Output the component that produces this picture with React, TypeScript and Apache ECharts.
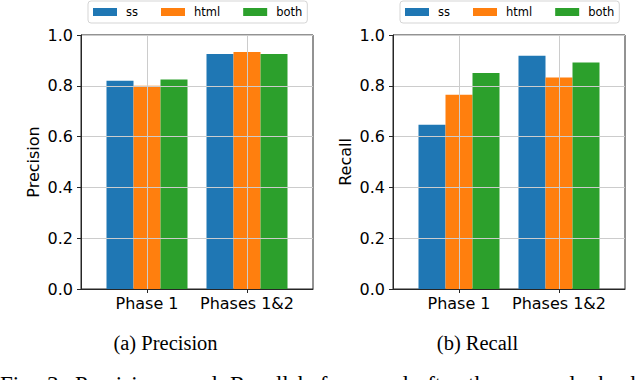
import React, { useEffect, useRef } from "react";
import * as echarts from "echarts";

const categories = ["Phase 1", "Phases 1&2"];
const seriesNames = ["ss", "html", "both"];
const precisionSS = [0.82, 0.925];
const precisionHTML = [0.8, 0.933];
const precisionBoth = [0.825, 0.925];
const recallSS = [0.647, 0.918];
const recallHTML = [0.765, 0.833];
const recallBoth = [0.85, 0.892];
const colors = ["#1f77b4", "#ff7f0e", "#2ca02c"];
const yLabels = ["Precision", "Recall"];
const captions = ["(a) Precision", "(b) Recall"];
const figCaptionWords = ["Fig.", "3:", "Precision", "and", "Recall", "before", "and", "after", "the", "manual", "check"];

// layout only (x position of each caption word, justified line)
const figCaptionX = [0, 47, 75, 184, 230, 298, 375, 417, 468, 508, 588];

const FONT = "'DejaVu Sans', sans-serif";
const SERIF = "'Liberation Serif', 'Times New Roman', serif";

export default function App() {
  const ref = useRef<HTMLDivElement>(null);
  useEffect(() => {
    if (!ref.current) return;
    const chart = echarts.init(ref.current, null, { renderer: "svg" });
    const panels = [
      { left: 81, right: 640 - 313, data: [precisionSS, precisionHTML, precisionBoth] },
      { left: 393, right: 640 - 625, data: [recallSS, recallHTML, recallBoth] },
    ];
    const grid = panels.map((p) => ({
      left: p.left,
      right: p.right,
      top: 35,
      bottom: 380 - 289,
      show: true,
      borderColor: "#262626",
      borderWidth: 1,
      backgroundColor: "transparent",
    }));
    const xAxis = panels.map((_, i) => ({
      type: "value",
      gridIndex: i,
      min: -0.66,
      max: 1.66,
      z: 3,
      axisLine: { show: true, onZero: false, lineStyle: { color: "#262626", width: 1 } },
      axisTick: { show: true, length: 4, customValues: [0, 1], lineStyle: { color: "#262626" } },
      axisLabel: {
        customValues: [0, 1],
        formatter: (v: number) => categories[Math.round(v)],
        fontFamily: FONT,
        fontSize: 16,
        color: "#000",
        margin: 6,
      },
      splitLine: { show: true, lineStyle: { color: "#cccccc", width: 1 } },
    }));
    const yAxis = panels.map((_, i) => ({
      type: "value",
      gridIndex: i,
      min: 0,
      max: 1,
      interval: 0.2,
      z: 3,
      name: yLabels[i],
      nameLocation: "middle",
      nameGap: 40,
      nameTextStyle: { fontFamily: FONT, fontSize: 16, color: "#000" },
      axisLine: { show: true, onZero: false, lineStyle: { color: "#262626", width: 1 } },
      axisTick: { show: true, length: 4, lineStyle: { color: "#262626" } },
      axisLabel: {
        formatter: (v: number) => v.toFixed(1),
        fontFamily: FONT,
        fontSize: 16,
        color: "#000",
        margin: 8,
      },
      splitLine: { show: true, lineStyle: { color: "#cccccc", width: 1 } },
    }));
    const series: any[] = [];
    panels.forEach((p, i) => {
      p.data.forEach((vals, k) => {
        series.push({
          type: "bar",
          name: seriesNames[k],
          xAxisIndex: i,
          yAxisIndex: i,
          barWidth: 27,
          barGap: "0%",
          itemStyle: { color: colors[k] },
          data: vals.map((v, j) => [j, v]),
        });
      });
    });
    const legend = [88, 400].map((left) => ({
      left,
      top: 1,
      data: seriesNames,
      icon: "rect",
      itemWidth: 24,
      itemHeight: 8,
      itemGap: 23,
      padding: [5, 5],
      backgroundColor: "#fff",
      borderColor: "#d5d5d5",
      borderWidth: 1,
      borderRadius: 3,
      selectedMode: false,
      textStyle: { fontFamily: FONT, fontSize: 11.5, color: "#000", padding: [0, 0, 0, 4], lineHeight: 10 },
    }));
    const captionTexts = captions.map((t, i) => ({
      type: "text",
      x: i === 0 ? 165.5 : 477.5,
      y: 342.5,
      style: {
        text: t,
        font: `20.5px ${SERIF}`,
        fill: "#000",
        textAlign: "center",
        textVerticalAlign: "middle",
      },
    }));
    const figTexts = figCaptionWords.map((w, i) => ({
      type: "text",
      x: figCaptionX[i],
      y: 372.5,
      style: {
        text: w,
        font: `23px ${SERIF}`,
        fill: "#000",
        textAlign: "left",
        textVerticalAlign: "top",
      },
    }));
    chart.setOption({
      animation: false,
      backgroundColor: "#fff",
      textStyle: { fontFamily: FONT },
      grid,
      xAxis,
      yAxis,
      series,
      legend,
      graphic: [...captionTexts, ...figTexts],
    });
    return () => chart.dispose();
  }, []);
  return (
    <div
      ref={ref}
      style={{ position: "fixed", left: 0, top: 0, width: 640, height: 380 }}
    />
  );
}
